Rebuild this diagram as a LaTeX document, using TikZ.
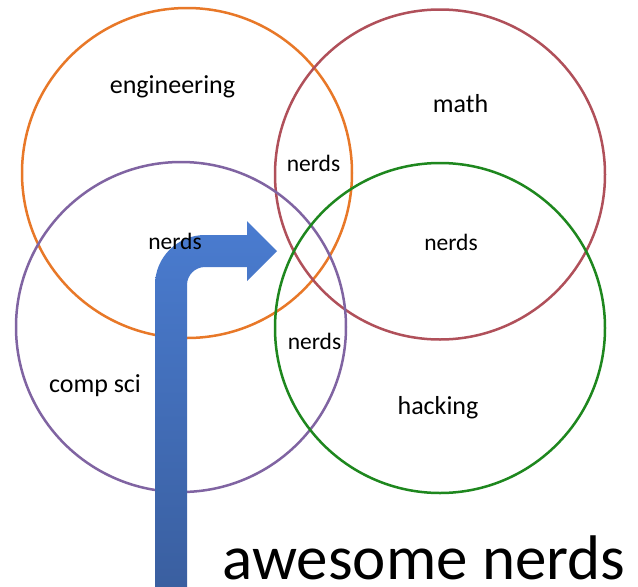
\documentclass[tikz,border=0pt]{standalone}
\usepackage{fontspec}
\setmainfont{Carlito}
\definecolor{cOrange}{RGB}{232,120,40}
\definecolor{cRed}{RGB}{176,80,90}
\definecolor{cPurple}{RGB}{128,100,162}
\definecolor{cGreen}{RGB}{30,135,30}
\definecolor{arrTop}{RGB}{74,124,208}
\definecolor{arrBot}{RGB}{58,95,160}
\tikzset{
  ring/.style={circle, draw=#1, line width=2.5pt, minimum size=330pt, inner sep=0pt},
  lbl/.style={anchor=base, font=\fontsize{26}{30}\selectfont, inner sep=0pt},
  nlbl/.style={anchor=base, font=\fontsize{23.5}{27}\selectfont, inner sep=0pt},
  biglbl/.style={anchor=base, font=\fontsize{63}{70}\selectfont, inner sep=0pt, text depth=0pt}
}
\begin{document}
\begin{tikzpicture}[x=1pt,y=-1pt]
\useasboundingbox (0,0) rectangle (638,587);
\fill[white] (0,0) rectangle (638,587);
% circles
\node[ring=cOrange] (eng) at (187,173) {};
\node[ring=cRed] (math) at (440,174.5) {};
\node[ring=cPurple] (cs) at (181,327) {};
\node[ring=cGreen] (hack) at (440,328) {};
% arrow
\coordinate (abase) at (171,587);
\coordinate (atip) at (277,251);
\shade[top color=arrTop, bottom color=arrBot]
  (155,587) -- (155,285) arc[start angle=180, end angle=90, radius=50pt]
  -- (247,235) -- (247,221) -- (atip) -- (247,281) -- (247,267)
  -- (205,267) arc[start angle=90, end angle=180, radius=18pt]
  -- (187,587) -- cycle;
% labels
\node[lbl] (tEng) at (172.5,93) {engineering};
\node[lbl] (tMath) at (460.5,112) {math};
\node[lbl] (tCs) at (95,392) {comp sci};
\node[lbl] (tHack) at (438,414) {hacking};
\node[nlbl] (n1) at (313.5,171) {nerds};
\node[nlbl] (n2) at (314.5,349) {nerds};
\node[nlbl] (n3) at (175,249) {nerds};
\node[nlbl] (n4) at (451,250) {nerds};
\node[biglbl] (tAw) at (424,579) {awesome nerds};
\end{tikzpicture}
\end{document}
